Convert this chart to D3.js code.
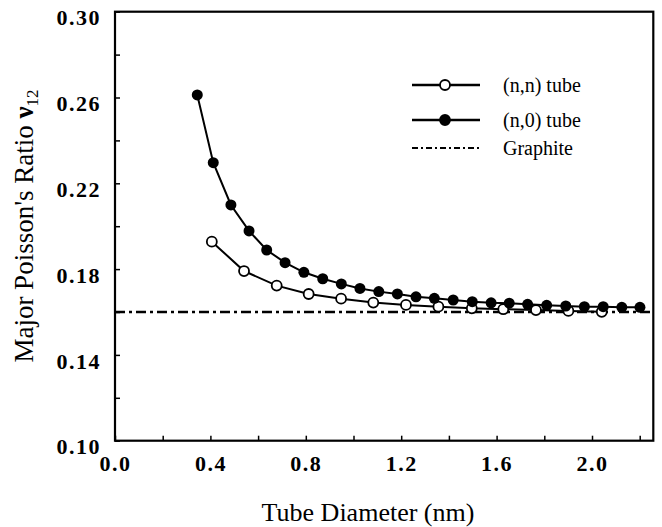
<!DOCTYPE html>
<html lang="en">
  <head>
    <meta charset="UTF-8" />
    <title>Poisson ratio vs tube diameter</title>
    <script src="https://cdn.jsdelivr.net/npm/d3@7"></script>
    <style>
      body { margin: 0; background: #fff; }
    </style>
  </head>
  <body>
    <div class="chart"></div>
    <script>
      // (n,n) armchair tubes
      const nnDiameter = [0.406, 0.541, 0.678, 0.812, 0.948, 1.083, 1.22, 1.356, 1.496, 1.628, 1.765, 1.901, 2.041];
      const nnPoisson = [0.1928, 0.1791, 0.1723, 0.1684, 0.1662, 0.1644, 0.1633, 0.1625, 0.1617, 0.1613, 0.1609, 0.1605, 0.1601];

      // (n,0) zigzag tubes
      const n0Diameter = [0.345, 0.412, 0.486, 0.562, 0.636, 0.713, 0.792, 0.871, 0.949, 1.027, 1.106, 1.184, 1.262,
        1.339, 1.418, 1.498, 1.577, 1.653, 1.73, 1.81, 1.89, 1.968, 2.047, 2.125, 2.201];
      const n0Poisson = [0.2612, 0.2296, 0.2099, 0.1978, 0.1889, 0.183, 0.1785, 0.1755, 0.1731, 0.171, 0.1695, 0.1684, 0.1671,
        0.1664, 0.1656, 0.1648, 0.1643, 0.1641, 0.1636, 0.1631, 0.1628, 0.1625, 0.1625, 0.1622, 0.1622];

      const graphiteValue = 0.16;

      const xTicks = [0, 0.2, 0.4, 0.6, 0.8, 1.0, 1.2, 1.4, 1.6, 1.8, 2.0, 2.2];
      const xLabels = [0, 0.4, 0.8, 1.2, 1.6, 2.0];
      const yTicks = [0.1, 0.12, 0.14, 0.16, 0.18, 0.2, 0.22, 0.24, 0.26, 0.28, 0.3];
      const yLabels = [0.1, 0.14, 0.18, 0.22, 0.26, 0.3];

      const legendNames = ["(n,n) tube", "(n,0) tube", "Graphite"];

      const width = 662;
      const height = 527;
      const plot = { left: 115, right: 653.3, top: 11.7, bottom: 440.7 };
      const serif = "'Liberation Serif', 'Times New Roman', serif";

      const svg = d3
        .select(".chart")
        .append("svg")
        .attr("width", width)
        .attr("height", height)
        .style("font-family", serif);

      const x = d3.scaleLinear().domain([0, 2.257]).range([plot.left, plot.right]);
      const y = d3.scaleLinear().domain([0.1, 0.3]).range([plot.bottom, plot.top]);

      const isLabel = (list) => (v) => list.some((l) => Math.abs(l - v) < 1e-6);

      // x axis, ticks pointing in
      const xAxis = svg
        .append("g")
        .attr("transform", `translate(0,${plot.bottom})`)
        .call(
          d3.axisBottom(x)
            .tickValues(xTicks)
            .tickSize(-5)
            .tickPadding(15)
            .tickFormat((d) => (isLabel(xLabels)(d) ? d3.format(".1f")(d) : ""))
        );

      const yAxis = svg
        .append("g")
        .attr("transform", `translate(${plot.left},0)`)
        .call(
          d3.axisLeft(y)
            .tickValues(yTicks)
            .tickSize(-5)
            .tickPadding(14)
            .tickFormat((d) => (isLabel(yLabels)(d) ? d3.format(".2f")(d) : ""))
        );

      [xAxis, yAxis].forEach((g) => {
        g.attr("font-family", null);
        g.select(".domain").remove();
        g.selectAll(".tick line").attr("stroke", "#000").attr("stroke-width", 1.5);
        g.selectAll(".tick text")
          .style("font-family", serif)
          .style("font-size", "22px")
          .style("font-weight", "bold")
          .attr("fill", "#000")
          .attr("letter-spacing", 1.5);
      });
      yAxis.selectAll(".tick text").attr("dy", "0.6em");

      // frame
      svg
        .append("rect")
        .attr("x", plot.left)
        .attr("y", plot.top)
        .attr("width", plot.right - plot.left)
        .attr("height", plot.bottom - plot.top)
        .attr("fill", "none")
        .attr("stroke", "#000")
        .attr("stroke-width", 2.2);

      // graphite reference line
      svg
        .append("line")
        .attr("x1", x(0))
        .attr("x2", plot.right - 1)
        .attr("y1", y(graphiteValue))
        .attr("y2", y(graphiteValue))
        .attr("stroke", "#000")
        .attr("stroke-width", 2.5)
        .attr("stroke-dasharray", "10,4,3,4");

      const line = d3.line().x((d) => x(d[0])).y((d) => y(d[1]));

      const nnData = d3.zip(nnDiameter, nnPoisson);
      const n0Data = d3.zip(n0Diameter, n0Poisson);

      svg.append("path")
        .datum(nnData)
        .attr("d", line)
        .attr("fill", "none")
        .attr("stroke", "#000")
        .attr("stroke-width", 2);

      svg.append("g")
        .selectAll("circle")
        .data(nnData)
        .enter()
        .append("circle")
        .attr("cx", (d) => x(d[0]))
        .attr("cy", (d) => y(d[1]))
        .attr("r", 5)
        .attr("fill", "#fff")
        .attr("stroke", "#000")
        .attr("stroke-width", 1.8);

      svg.append("path")
        .datum(n0Data)
        .attr("d", line)
        .attr("fill", "none")
        .attr("stroke", "#000")
        .attr("stroke-width", 2);

      svg.append("g")
        .selectAll("circle")
        .data(n0Data)
        .enter()
        .append("circle")
        .attr("cx", (d) => x(d[0]))
        .attr("cy", (d) => y(d[1]))
        .attr("r", 5.5)
        .attr("fill", "#000");

      // legend
      const legend = svg.append("g").attr("transform", "translate(412,85)");
      const rowGap = [0, 35, 63];

      legendNames.forEach((name, i) => {
        const row = legend.append("g").attr("transform", `translate(0,${rowGap[i]})`);
        row.append("line")
          .attr("x1", 0)
          .attr("x2", 68)
          .attr("stroke", "#000")
          .attr("stroke-width", i == 2 ? 1.8 : 2.4)
          .attr("stroke-dasharray", i == 2 ? "6,3,2,3" : null);
        if (i < 2) {
          row.append("circle")
            .attr("cx", 33)
            .attr("r", 5)
            .attr("fill", i == 0 ? "#fff" : "#000")
            .attr("stroke", "#000")
            .attr("stroke-width", 1.8);
        }
        row.append("text")
          .attr("x", 91)
          .attr("dy", "0.35em")
          .style("font-family", serif)
          .style("font-size", "20px")
          .text(name);
      });

      // axis titles
      svg.append("text")
        .attr("x", 368)
        .attr("y", 521)
        .attr("text-anchor", "middle")
        .style("font-family", serif)
        .style("font-size", "26px")
        .text("Tube Diameter (nm)");

      const yTitle = svg.append("text")
        .attr("transform", "translate(33,226) rotate(-90)")
        .attr("text-anchor", "middle")
        .style("font-family", serif)
        .style("font-size", "27px");
      yTitle.append("tspan").text("Major Poisson's Ratio ");
      yTitle.append("tspan").style("font-weight", "bold").text("ν");
      yTitle.append("tspan").style("font-size", "17px").attr("dy", 5).text("12");
    </script>
  </body>
</html>
